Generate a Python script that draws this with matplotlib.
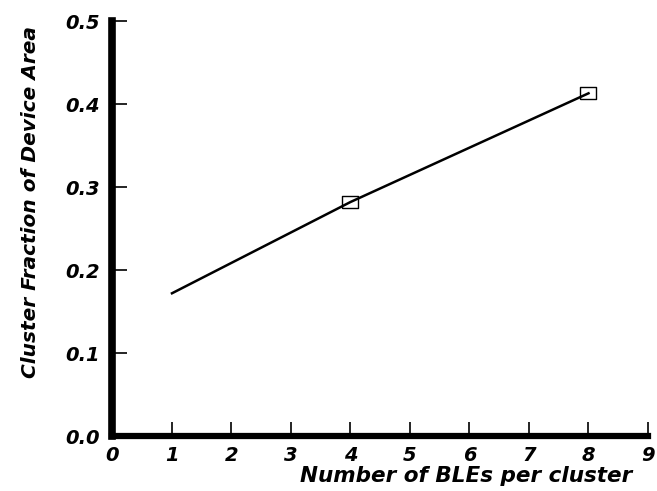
import matplotlib
matplotlib.use("Agg")
import matplotlib.pyplot as plt

# data
bles = [1, 4, 8]
area_frac = [0.172, 0.282, 0.413]

xticks = [0, 1, 2, 3, 4, 5, 6, 7, 8, 9]
yticks = [0.0, 0.1, 0.2, 0.3, 0.4, 0.5]

plt.rcParams['font.family'] = ['DejaVu Sans']

fig = plt.figure(figsize=(6.57, 4.91), dpi=100)
ax = fig.add_axes([0.1712, 0.112, 0.8151, 0.845])

# wide open rectangle as marker
rect = [(-1.3, -1), (1.3, -1), (1.3, 1), (-1.3, 1), (-1.3, -1)]
ax.plot(bles, area_frac, color='black', linewidth=1.8,
        marker=rect, markersize=12, markerfacecolor='none',
        markeredgecolor='black', markeredgewidth=1.0, markevery=[1, 2])

ax.set_xlim(0, 9)
ax.set_ylim(0, 0.5)
ax.set_xticks(xticks)
ax.set_yticks(yticks)
ax.set_xticklabels([str(t) for t in xticks])
ax.set_yticklabels(['%.1f' % t for t in yticks])

for s in ['top', 'right']:
    ax.spines[s].set_visible(False)
ax.spines['left'].set_linewidth(5.5)
ax.spines['bottom'].set_linewidth(4.5)

ax.tick_params(axis='y', direction='in', length=11, width=1.2, pad=9)
ax.tick_params(axis='x', direction='in', length=10, width=1.2, pad=7)
for lab in ax.get_xticklabels() + ax.get_yticklabels():
    lab.set_fontsize(14)
    lab.set_fontweight('bold')
    lab.set_fontstyle('italic')

ax.set_xlabel('Number of BLEs per cluster', fontsize=15.5, fontweight='bold',
              fontstyle='italic', va='center')
ax.xaxis.set_label_coords(0.66, -0.097)
ax.set_ylabel('Cluster Fraction of Device Area', fontsize=14.5, fontweight='bold',
              fontstyle='italic', va='center')
ax.yaxis.set_label_coords(-0.154, 0.564)

fig.savefig('out.png', dpi=100)
